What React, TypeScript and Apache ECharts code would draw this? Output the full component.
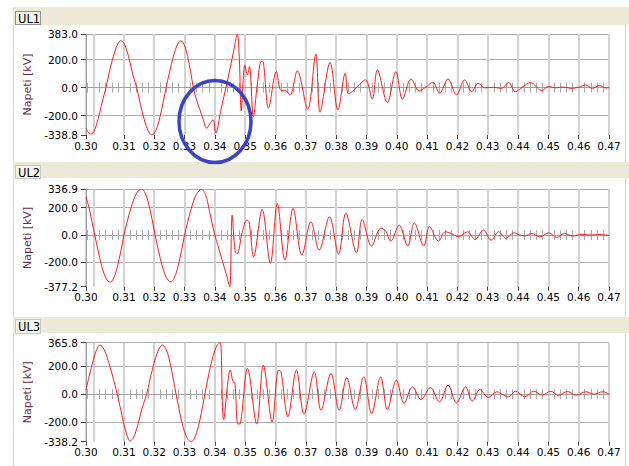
import React, { useEffect, useRef } from "react";
import * as echarts from "echarts";

const panelNames = ["UL1", "UL2", "UL3"];
const yAxisName = "Napeti [kV]";
const xLabelValues = [0.2975, 0.31, 0.32, 0.33, 0.34, 0.35, 0.36, 0.37, 0.38, 0.39, 0.4, 0.41, 0.42, 0.43, 0.44, 0.45, 0.46, 0.47];
const ul1YTicks = [-338.8, -200, 0, 200, 383.0];
const ul2YTicks = [-377.2, -200, 0, 200, 336.9];
const ul3YTicks = [-338.2, -200, 0, 200, 365.8];

const ul1Time = [0.2975, 0.2983, 0.299, 0.3, 0.301, 0.302, 0.303, 0.3041, 0.305, 0.306, 0.307, 0.308, 0.3089, 0.31, 0.311, 0.312, 0.313, 0.3142, 0.315, 0.316, 0.317, 0.318, 0.3192, 0.32, 0.321, 0.322, 0.323, 0.3239, 0.325, 0.326, 0.327, 0.328, 0.3288, 0.33, 0.331, 0.332, 0.3329, 0.334, 0.3351, 0.3362, 0.3373, 0.3383, 0.3394, 0.3403, 0.342, 0.344, 0.346, 0.3474, 0.3481, 0.3487, 0.3499, 0.3507, 0.3514, 0.3527, 0.3541, 0.3553, 0.356, 0.3577, 0.3603, 0.3618, 0.3634, 0.3648, 0.3672, 0.3706, 0.3733, 0.3747, 0.378, 0.3806, 0.383, 0.3841, 0.3862, 0.3897, 0.3919, 0.3936, 0.3969, 0.3997, 0.4019, 0.4047, 0.4074, 0.4095, 0.4119, 0.4141, 0.4169, 0.4197, 0.4224, 0.4247, 0.4269, 0.429, 0.432, 0.4345, 0.4369, 0.4391, 0.4415, 0.4441, 0.4478, 0.45, 0.4525, 0.455, 0.4575, 0.46, 0.4624, 0.4645, 0.4668, 0.469, 0.47];
const ul1Volt = [-291, -322, -332, -318, -262, -180, -88, 0, 92, 183, 258, 312, 335, 318, 262, 180, 88, 0, -75, -170, -250, -308, -338.8, -328, -280, -200, -100, 0, 105, 198, 272, 320, 335, 300, 223, 113, 0, -90, -160, -230, -290, -262, -229, -325, -160, 35, 240, 383, 190, -165, 162, 90, 150, -207, 40, 186, 180, -147, 115, -20, -22, -55, 120, -155, 240, -176, 180, -160, 102, -45, -12, 55, -83, 126, -107, 114, -83, 62, -24, 2, 38, -40, 62, -52, 55, -29, 31, -2, 2, -6, 36, -29, 4, 36, -21, 8, -2, 4, -6, 3, 19, -6, 15, -3, 0];

const ul2Time = [0.2975, 0.2985, 0.2995, 0.3004, 0.3015, 0.3025, 0.3035, 0.3045, 0.3054, 0.3065, 0.3075, 0.3085, 0.3095, 0.31, 0.311, 0.312, 0.313, 0.314, 0.315, 0.3158, 0.317, 0.318, 0.319, 0.3203, 0.321, 0.322, 0.323, 0.324, 0.3254, 0.3265, 0.3275, 0.3285, 0.3295, 0.33, 0.331, 0.332, 0.333, 0.334, 0.3356, 0.337, 0.338, 0.339, 0.34, 0.341, 0.342, 0.343, 0.344, 0.3449, 0.3457, 0.3467, 0.3474, 0.349, 0.3506, 0.3513, 0.3528, 0.3556, 0.3583, 0.3606, 0.3631, 0.3658, 0.3687, 0.3717, 0.3744, 0.3778, 0.3808, 0.3832, 0.3867, 0.3886, 0.3917, 0.3947, 0.3962, 0.398, 0.4008, 0.4036, 0.4058, 0.4089, 0.4108, 0.4138, 0.416, 0.418, 0.4202, 0.4233, 0.4258, 0.4286, 0.4311, 0.4336, 0.436, 0.4386, 0.4405, 0.4422, 0.4445, 0.4472, 0.4502, 0.4527, 0.4553, 0.4581, 0.461, 0.464, 0.467, 0.47];
const ul2Volt = [280, 200, 95, 0, -115, -210, -285, -330, -345, -321, -260, -169, -59, 0, 90, 174, 245, 298, 329, 336.9, 308, 243, 147, 0, -73, -170, -252, -310, -341, -318, -257, -167, -58, 0, 93, 178, 250, 302, 335, 290, 200, 95, 0, -76, -152, -228, -304, -377.2, 146, -122, -134, 20, 110, 95, -158, 188, -207, 231, -183, 195, -146, 97, -110, 134, -140, 160, -129, 115, -80, 49, 35, -44, 73, -80, 90, -80, 61, -44, 24, 12, -12, 24, -32, 37, -37, 24, -24, 17, 2, -7, 12, -12, 17, -17, 12, -7, 5, 1, 4, -3];

const ul3Time = [0.2975, 0.2985, 0.2995, 0.3005, 0.3013, 0.3021, 0.303, 0.304, 0.305, 0.306, 0.307, 0.3078, 0.309, 0.31, 0.311, 0.312, 0.313, 0.314, 0.315, 0.316, 0.3175, 0.3185, 0.3195, 0.3205, 0.3215, 0.3227, 0.324, 0.325, 0.326, 0.3272, 0.328, 0.329, 0.33, 0.331, 0.3322, 0.333, 0.334, 0.335, 0.336, 0.3367, 0.338, 0.339, 0.34, 0.341, 0.3418, 0.3429, 0.3451, 0.346, 0.3466, 0.3476, 0.3484, 0.3508, 0.3538, 0.356, 0.3589, 0.361, 0.3618, 0.3641, 0.3669, 0.3694, 0.3728, 0.375, 0.3783, 0.381, 0.3835, 0.3863, 0.3891, 0.3917, 0.3947, 0.3969, 0.3999, 0.4024, 0.4052, 0.408, 0.4111, 0.4141, 0.4169, 0.4197, 0.4227, 0.4249, 0.4274, 0.4302, 0.433, 0.435, 0.4369, 0.4391, 0.4422, 0.4452, 0.448, 0.4508, 0.4533, 0.4563, 0.4591, 0.4624, 0.465, 0.468, 0.47];
const ul3Volt = [29, 125, 210, 285, 330, 349, 335, 290, 225, 150, 70, 0, -115, -215, -290, -333, -315, -262, -185, -100, 0, 95, 185, 260, 318, 349, 314, 243, 142, 0, -84, -190, -267, -318, -338.2, -325, -274, -189, -82, 0, 142, 238, 311, 354, 365.8, -180, 171, 88, 80, -213, -208, 183, -213, 206, -197, 171, 160, -161, 171, -142, 159, -114, 147, -114, 117, -109, 123, -137, 123, -109, 100, -66, 52, -38, 47, -55, 64, -62, 52, -50, 33, -24, 17, -4, -19, 21, -19, 21, -7, 21, -9, 19, -7, 17, 0, 17, 0];

const FONT = "DejaVu Sans";

export default function App() {
  const ref = useRef<HTMLDivElement>(null);
  useEffect(() => {
    document.body.style.margin = "0";
    const chart = echarts.init(ref.current as HTMLDivElement, null, { renderer: "svg" });
    const panels = [
      { name: panelNames[0], time: ul1Time, volt: ul1Volt, yTicks: ul1YTicks, top: 34, height: 101, hy: 7, hh: 18, by: 11, bh: 13 },
      { name: panelNames[1], time: ul2Time, volt: ul2Volt, yTicks: ul2YTicks, top: 189, height: 97.7, hy: 162, hh: 16, by: 165, bh: 13 },
      { name: panelNames[2], time: ul3Time, volt: ul3Volt, yTicks: ul3YTicks, top: 342.7, height: 99, hy: 317, hh: 16, by: 319, bh: 14 },
    ];
    const xMin = xLabelValues[0];
    const xMax = xLabelValues[xLabelValues.length - 1];
    const grid: any[] = [];
    const xAxis: any[] = [];
    const yAxis: any[] = [];
    const series: any[] = [];
    const graphic: any[] = [
      { type: "line", shape: { x1: 13.5, y1: 7, x2: 13.5, y2: 466 }, style: { stroke: "#d6d3cc", lineWidth: 1 }, z: 1 },
      { type: "line", shape: { x1: 625.5, y1: 7, x2: 625.5, y2: 466 }, style: { stroke: "#d6d3cc", lineWidth: 1 }, z: 1 },
    ];
    panels.forEach((p, i) => {
      grid.push({ left: 86, width: 523, top: p.top, height: p.height, containLabel: false, outerBoundsMode: "none", show: false });
      const yMin = p.yTicks[0];
      const yMax = p.yTicks[p.yTicks.length - 1];
      xAxis.push({
        type: "value", gridIndex: i, position: "bottom", min: xMin, max: xMax,
        axisLine: { show: false, onZero: false },
        axisTick: { show: true, customValues: xLabelValues, length: 4, lineStyle: { color: "#404040", width: 1 } },
        axisLabel: { show: true, customValues: xLabelValues, formatter: (v: number) => v.toFixed(2), margin: 5, color: "#000", fontSize: 10.5, fontFamily: FONT, showMinLabel: true, showMaxLabel: true },
        splitLine: { show: false },
      });
      xAxis.push({
        type: "value", gridIndex: i, position: "top", min: xMin, max: xMax, minInterval: 0.01, maxInterval: 0.01,
        axisLine: { show: true, onZero: true, onZeroAxisIndex: 2 * i, lineStyle: { color: "#a0a0a0", width: 1 } },
        axisTick: { show: false }, axisLabel: { show: false },
        minorTick: { show: true, splitNumber: 5, length: 5, lineStyle: { color: "#a8a8a8", width: 1 } },
        splitLine: { show: true, lineStyle: { color: "#d2d2d2", width: 2 } },
      });
      xAxis.push({
        type: "value", gridIndex: i, position: "top", min: xMin, max: xMax, minInterval: 0.01, maxInterval: 0.01,
        axisLine: { show: true, onZero: true, onZeroAxisIndex: 2 * i, lineStyle: { color: "#a0a0a0", width: 1 } },
        axisTick: { show: false, inside: true }, axisLabel: { show: false },
        minorTick: { show: true, splitNumber: 5, length: 5, lineStyle: { color: "#a8a8a8", width: 1 } },
        splitLine: { show: false },
      });
      yAxis.push({
        type: "value", gridIndex: i, position: "left", min: yMin, max: yMax,
        name: yAxisName, nameLocation: "middle", nameGap: 40,
        nameTextStyle: { color: "#6a2a4a", fontSize: 11, fontFamily: FONT },
        axisLine: { show: true, onZero: false, lineStyle: { color: "#a0a0a0", width: 1 } },
        axisTick: { show: true, customValues: p.yTicks, length: 5, lineStyle: { color: "#404040", width: 1 } },
        axisLabel: { show: true, customValues: p.yTicks, formatter: (v: number) => v.toFixed(1), margin: 8, color: "#000", fontSize: 10.5, fontFamily: FONT, showMinLabel: true, showMaxLabel: true },
        splitLine: { show: false },
      });
      yAxis.push({
        type: "value", gridIndex: i, position: "right", min: yMin, max: yMax,
        axisLine: { show: false, onZero: false }, axisTick: { show: false, customValues: p.yTicks.slice(1) }, axisLabel: { show: false },
        splitLine: { show: true, lineStyle: { color: "#acacac", width: 1 } },
      });
      series.push({
        type: "line", xAxisIndex: 3 * i, yAxisIndex: 2 * i, showSymbol: false, symbol: "none",
        smooth: 0.35,
        data: p.time.map((t, k) => [t, p.volt[k]]),
        lineStyle: { color: "#ff1a1a", width: 1 }, z: 5,
      });
      graphic.push({ type: "rect", shape: { x: 13, y: p.hy, width: 616, height: p.hh }, style: { fill: "#ece9d8" }, z: 2 });
      graphic.push({
        type: "rect", shape: { x: 15.5, y: p.by + 0.5, width: 25, height: p.bh },
        style: i === 0 ? { fill: "#f4f2ea", stroke: "#333", lineWidth: 1, lineDash: [1, 1] } : { fill: "#f7f6f1", stroke: "#c8c5bb", lineWidth: 1 },
        z: 3,
      });
      graphic.push({ type: "text", style: { x: 18, y: p.by + 1 + p.bh / 2, text: p.name, fill: "#000", fontSize: 11.5, fontFamily: FONT, verticalAlign: "middle", textAlign: "left" }, z: 4 });
    });
    graphic.push({ type: "ellipse", shape: { cx: 215, cy: 121.5, rx: 36, ry: 41 }, style: { fill: "transparent", stroke: "#3b43c6", lineWidth: 3.5 }, z: 100 });
    chart.setOption({
      animation: false,
      backgroundColor: "#ffffff",
      textStyle: { fontFamily: FONT },
      grid, xAxis, yAxis, series, graphic,
    });
    return () => chart.dispose();
  }, []);
  return <div ref={ref} style={{ position: "fixed", left: 0, top: 0, width: 629, height: 466 }} />;
}
